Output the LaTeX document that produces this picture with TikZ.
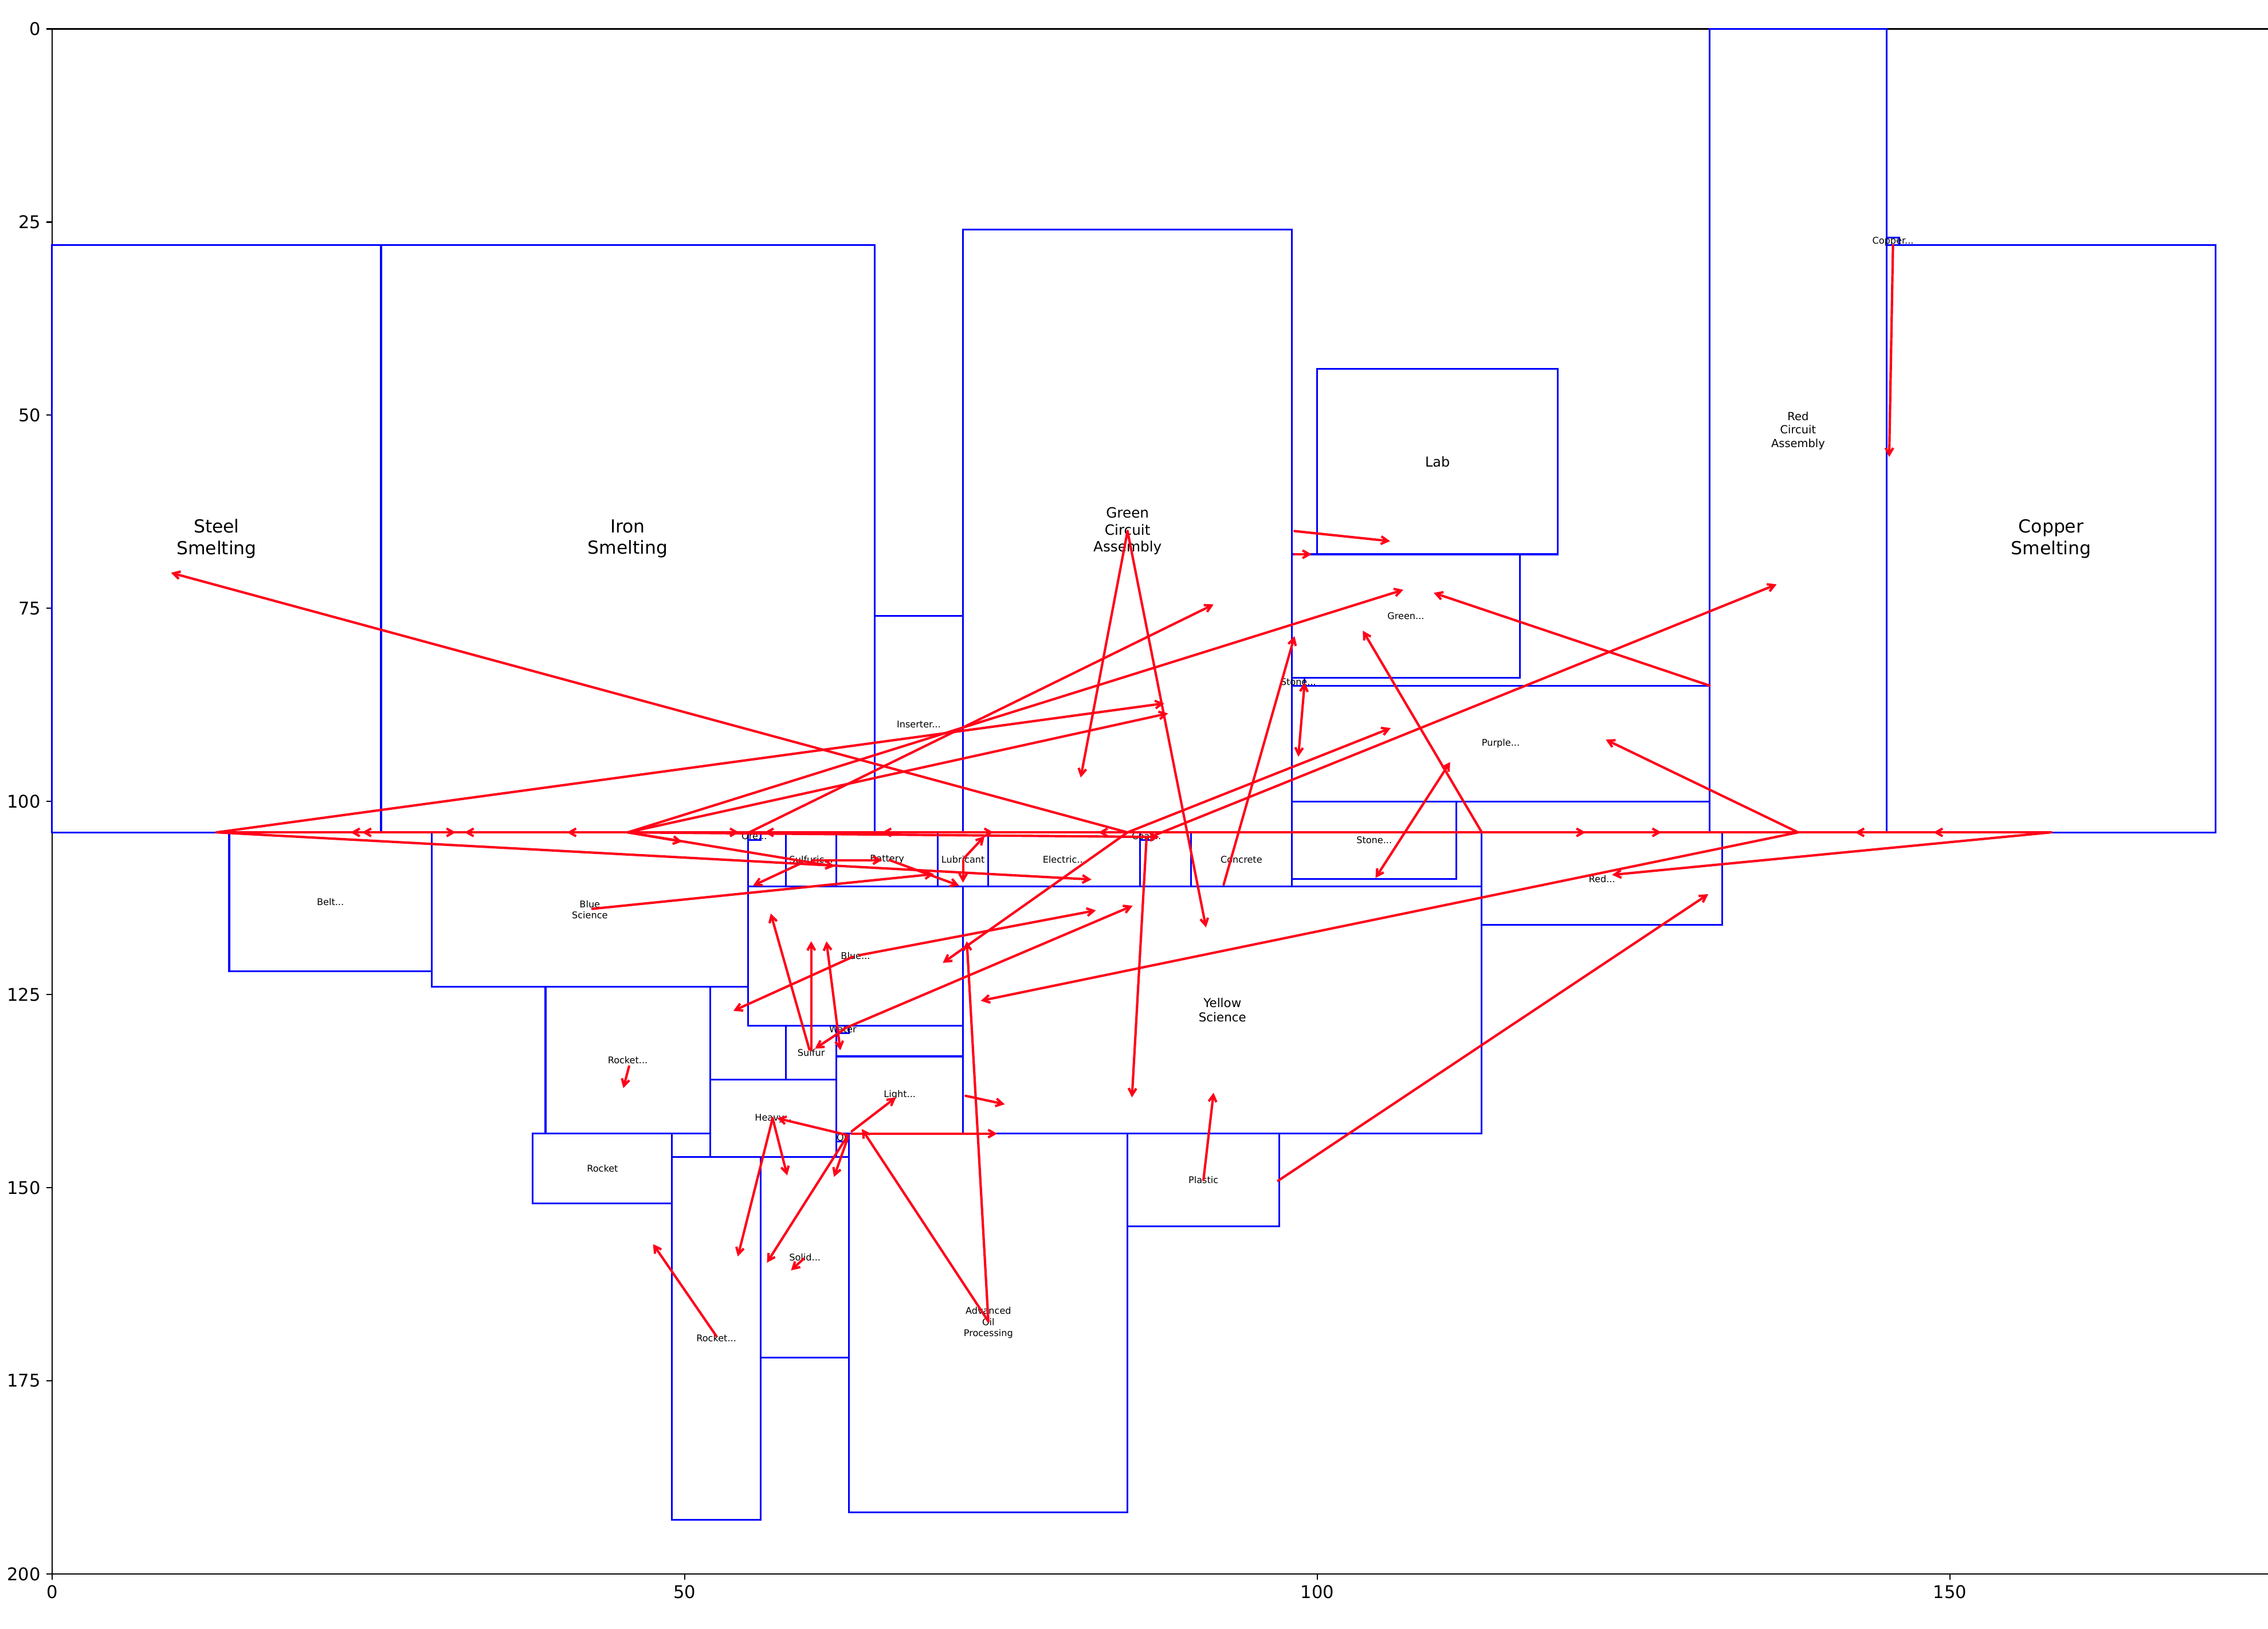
\documentclass[tikz,border=0pt]{standalone}
\usepackage{fontspec}
\setmainfont{DejaVu Sans}
\usetikzlibrary{arrows.meta}
\definecolor{arrred}{RGB}{255,0,25}
\begin{document}
\begin{tikzpicture}[x=7.9488pt,y=-4.85187pt,
  box/.style={draw=blue,line width=1.1pt},
  arr/.style={draw=arrred,line width=1.5pt,line cap=round,line join=round,-{Straight Barb[length=4.2pt,width=4.8pt]}},
  darr/.style={draw=arrred,line width=1.5pt,line cap=round,line join=round,{Straight Barb[length=4.2pt,width=4.8pt]}-{Straight Barb[length=4.2pt,width=4.8pt]}},
  lbl/.style={inner sep=0pt,align=center,font=\fontsize{5.8}{7}\selectfont},
  fbig/.style={font=\fontsize{11.3}{13.5}\selectfont},
  fgca/.style={font=\fontsize{8.9}{10.7}\selectfont},
  flab/.style={font=\fontsize{8.6}{10.3}\selectfont},
  frca/.style={font=\fontsize{7}{8.4}\selectfont},
  fyel/.style={font=\fontsize{7.7}{9.2}\selectfont},
  tick/.style={inner sep=0pt,font=\fontsize{11}{13}\selectfont},
  spine/.style={draw=black,line width=0.8pt}]
\useasboundingbox (-32.72pt,18.18pt) rectangle (1392.16pt,-1004.94pt);
% axes
\draw[spine] (175.2,0) -- (0,0) -- (0,200) -- (175.2,200);
\foreach \t in {0,50,100,150} {
  \draw[spine] (\t,200) -- ++(0pt,-3.5pt);
  \node[tick,anchor=north] (xt\t) at ([yshift=-7pt]\t,200) {\t};
}
\foreach \t in {0,25,50,75,100,125,150,175,200} {
  \draw[spine] (0,\t) -- ++(-3.5pt,0pt);
  \node[tick,anchor=east] (yt\t) at ([xshift=-7pt]0,\t) {\t};
}
% boxes
\draw[box] (0,28) rectangle (26,104);      \node[lbl,fbig] (steel) at (13,66) {Steel\\Smelting};
\draw[box] (26,28) rectangle (65,104);     \node[lbl,fbig] (iron) at (45.5,66) {Iron\\Smelting};
\draw[box] (65,76) rectangle (72,104);     \node[lbl] (inserter) at (68.5,90) {Inserter...};
\draw[box] (72,26) rectangle (98,104);     \node[lbl,fgca] (gca) at (85,65) {Green\\Circuit\\Assembly};
\draw[box] (100,44) rectangle (119,68);    \node[lbl,flab] (lab) at (109.5,56) {Lab};
\draw[box] (98,68) rectangle (116,84);     \node[lbl] (green) at (107,76) {Green...};
\draw[box] (98,84) rectangle (99,85);      \node[lbl] (stonet) at (98.5,84.5) {Stone...};
\draw[box] (98,85) rectangle (131,100);    \node[lbl] (purple) at (114.5,92.5) {Purple...};
\draw[box] (98,100) rectangle (111,110);   \node[lbl] (stoneb) at (104.5,105) {Stone...};
\draw[box] (131,0) rectangle (145,104);    \node[lbl,frca] (rca) at (138,52) {Red\\Circuit\\Assembly};
\draw[box] (145,27) rectangle (146,28);    \node[lbl] (coppert) at (145.5,27.5) {Copper...};
\draw[box] (145,28) rectangle (171,104);   \node[lbl,fbig] (copper) at (158,66) {Copper\\Smelting};
\draw[box] (14,104) rectangle (30,122);    \node[lbl] (belt) at (22,113) {Belt...};
\draw[box] (30,104) rectangle (55,124);    \node[lbl] (bluesci) at (42.5,114) {Blue\\Science};
\draw[box] (55,104) rectangle (56,105);    \node[lbl] (ore) at (55.5,104.5) {Ore...};
\draw[box] (58,104) rectangle (62,111);    \node[lbl] (sulfuric) at (60,107.5) {Sulfuric...};
\draw[box] (62,104) rectangle (70,111);    \node[lbl] (battery) at (66,107.5) {Battery};
\draw[box] (70,104) rectangle (74,111);    \node[lbl] (lubricant) at (72,107.5) {Lubricant};
\draw[box] (74,104) rectangle (86,111);    \node[lbl] (electric) at (80,107.5) {Electric...};
\draw[box] (86,104) rectangle (87,105);    \node[lbl] (coal) at (86.5,104.5) {Coal...};
\draw[box] (90,104) rectangle (98,111);    \node[lbl] (concrete) at (94,107.5) {Concrete};
\draw[box] (55,111) rectangle (72,129);    \node[lbl] (blue) at (63.5,120) {Blue...};
\draw[box] (62,129) rectangle (63,130);    \node[lbl] (water) at (62.5,129.5) {Water};
\draw[box] (58,129) rectangle (62,136);    \node[lbl] (sulfur) at (60,132.5) {Sulfur};
\draw[box] (62,133) rectangle (72,143);    \node[lbl] (light) at (67,138) {Light...};
\draw[box] (72,111) rectangle (113,143);   \node[lbl,fyel] (yellow) at (92.5,127) {Yellow\\Science};
\draw[box] (113,104) rectangle (132,116);  \node[lbl] (red) at (122.5,110) {Red...};
\draw[box] (39,124) rectangle (52,143);    \node[lbl] (rocketu) at (45.5,133.5) {Rocket...};
\draw[box] (38,143) rectangle (49,152);    \node[lbl] (rocket) at (43.5,147.5) {Rocket};
\draw[box] (52,136) rectangle (62,146);    \node[lbl] (heavy) at (57,141) {Heavy...};
\draw[box] (62,143) rectangle (63,144);    \node[lbl] (oil) at (62.5,143.5) {Oil};
\draw[box] (49,146) rectangle (56,193);    \node[lbl] (rocketl) at (52.5,169.5) {Rocket...};
\draw[box] (56,146) rectangle (63,172);    \node[lbl] (solid) at (59.5,159) {Solid...};
\draw[box] (63,143) rectangle (85,192);    \node[lbl] (advoil) at (74,167.5) {Advanced\\Oil\\Processing};
\draw[box] (85,143) rectangle (97,155);    \node[lbl] (plastic) at (91,149) {Plastic};
% hubs
\coordinate (hS) at (13,104);
\coordinate (hI) at (45.5,104);
\coordinate (hG) at (85,104);
\coordinate (hR) at (138,104);
\coordinate (hC) at (158,104);
\coordinate (hK) at (113,104);
\coordinate (hGc) at (85,65);
\coordinate (hOil) at (62.9,143.2);
\coordinate (hHv) at (56.95,141);
\coordinate (hAO) at (74,167.3);
% arrows
\draw[arr] (hS) -- (31.9,104);
\draw[arr] (hS) -- (87.9,87.3);
\draw[arr] (hS) -- (82.15,110.1);
\draw[arr] (hI) -- (23.6,104);
\draw[arr] (hI) -- (24.5,104);
\draw[arr] (hI) -- (32.6,104);
\draw[arr] (hI) -- (40.7,104);
\draw[arr] (hI) -- (54.3,104);
\draw[arr] (hI) -- (49.8,105.2);
\draw[arr] (hI) -- (61.85,108.4);
\draw[arr] (hI) -- (106.8,72.6);
\draw[arr] (hI) -- (88.2,88.6);
\draw[arr] (hI) -- (87.5,104.6);
\draw[arr] (hI) -- (74.4,104);
\draw[arr] (55.1,104) -- (91.8,74.5);
\draw[arr] (hG) -- (9.4,70.4);
\draw[arr] (hG) -- (105.8,90.5);
\draw[arr] (hG) -- (70.4,120.9);
\draw[arr] (hG) -- (56.3,104);
\draw[arr] (hG) -- (65.6,104);
\draw[arr] (hG) -- (121.2,104);
\draw[arr] (hG) -- (127.2,104);
\draw[arr] (hC) -- (82.7,104);
\draw[arr] (hC) -- (142.5,104);
\draw[arr] (hC) -- (148.7,104);
\draw[arr] (hC) -- (123.3,109.5);
\draw[arr] (hR) -- (122.8,92.0);
\draw[arr] (hR) -- (73.4,125.8);
\draw[arr] (86.8,104.6) -- (136.3,71.9);
\draw[arr] (86.5,104.8) -- (85.35,138.3);
\draw[arr] (hGc) -- (81.3,96.9);
\draw[arr] (hGc) -- (91.2,116.3);
\draw[arr] (98.2,65.0) -- (105.75,66.3);
\draw[arr] (98.2,68.0) -- (99.55,68.0);
\draw[arr] (hK) -- (103.6,77.9);
\draw[darr] (104.6,109.9) -- (110.5,94.9);
\draw[arr] (92.6,110.75) -- (98.2,78.6);
\draw[darr] (99.0,84.6) -- (98.5,94.2);
\draw[arr] (131,85) -- (109.2,73.0);
\draw[arr] (145.5,28) -- (145.2,55.4);
\draw[arr] (plastic.center) -- (91.8,137.7);
\draw[arr] (96.9,149.1) -- (130.9,112);
\draw[arr] (72.2,138.1) -- (75.3,139.2);
\draw[arr] (63.2,142.7) -- (66.7,138.3);
\draw[arr] (63.2,143) -- (74.7,143);
\draw[arr] (hOil) -- (57.3,141.0);
\draw[arr] (hOil) -- (56.5,159.7);
\draw[arr] (62.9,143.5) -- (61.8,148.6);
\draw[arr] (hAO) -- (64.0,142.4);
\draw[arr] (hAO) -- (72.3,118.1);
\draw[arr] (hHv) -- (54.2,158.9);
\draw[arr] (hHv) -- (58.1,148.4);
\draw[arr] (59.4,159.2) -- (58.4,160.7);
\draw[arr] (52.5,169.2) -- (47.5,157.3);
\draw[arr] (45.6,134.3) -- (45.15,137.1);
\draw[arr] (63.3,120.1) -- (53.85,127.1);
\draw[arr] (63.8,119.9) -- (82.5,114.1);
\draw[arr] (62.6,129.4) -- (85.4,113.5);
\draw[arr] (62.6,129.5) -- (60.3,132.0);
\draw[arr] (60,132.2) -- (60,118.1);
\draw[arr] (59.85,132.1) -- (56.8,114.5);
\draw[darr] (61.2,118.1) -- (62.3,132.2);
\draw[arr] (72,107.6) -- (72,110.5);
\draw[arr] (72.1,107.3) -- (73.7,104.5);
\draw[arr] (66.2,107.6) -- (71.7,110.9);
\draw[arr] (60.1,107.6) -- (65.6,107.6);
\draw[arr] (59.2,108.0) -- (55.4,110.9);
\draw[arr] (42.7,113.9) -- (69.7,109.4);
\end{tikzpicture}
\end{document}
